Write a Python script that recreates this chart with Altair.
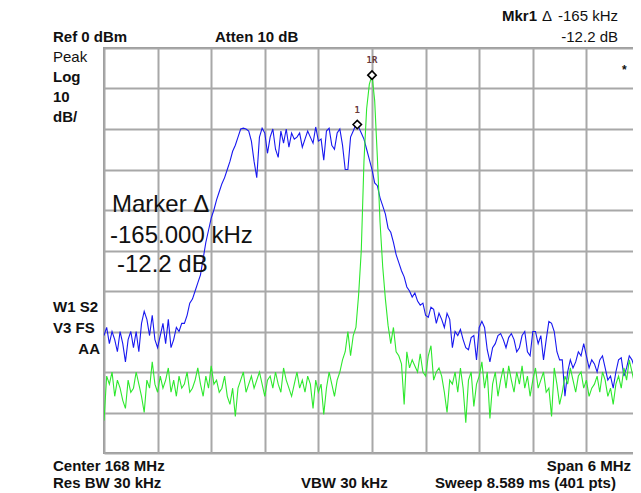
import altair as alt
import pandas as pd

# Spectrum analyser settings
CENTER_MHZ = 168.0
SPAN_MHZ = 6.0
N_POINTS = 201  # trace points (30 kHz apart)

# Blue trace (dBm), left to right
blue_db = [
    -71, -69, -73, -70, -72, -75, -70, -73, -77.5, -72,
    -70, -74, -70, -75, -68, -65, -67, -71, -66, -72,
    -74, -71, -68, -73, -67, -74, -72, -69, -70, -68,
    -68, -66, -63, -62, -60, -58, -56, -52, -48, -45,
    -42, -40, -37.5, -35.5, -33.5, -32, -30, -28, -25.5, -24,
    -22, -20, -19.8, -20, -20.5, -23, -28, -32, -22, -19.8,
    -21, -26, -22, -20, -25, -27, -20.5, -23.5, -20, -24.5,
    -21, -22.5, -22, -21, -24.5, -22.5, -20.5, -22, -23.5, -19.5,
    -23, -22.5, -27.7, -20.5, -19.8, -24, -25, -21, -20, -24,
    -30, -30, -22, -20.5, -18.9, -19.5, -21, -22.5, -25, -27.5,
    -30, -33.3, -34, -37, -39, -41, -44.5, -45.5, -48, -51,
    -53, -55, -56.5, -59, -60, -61.5, -60.5, -62.5, -63.5, -63,
    -66, -66.5, -64, -64.5, -68, -65.5, -67, -69, -65.5, -67,
    -74, -70, -71, -69.5, -72, -74, -74.5, -71.5, -71, -77,
    -69, -67.5, -69, -74.5, -77.5, -74, -73, -71, -70.5, -72,
    -74, -71.5, -70.5, -72, -75, -74, -71, -70, -75, -76,
    -70, -70, -73, -71, -77, -72, -67.5, -68, -70, -75,
    -77, -77, -86, -80, -77, -79, -77.5, -75, -76, -73,
    -76, -79, -77, -78, -80, -77, -76, -79, -82, -81,
    -84, -80, -77, -76.5, -81, -79, -76, -77, -79, -81,
    -89,
]

# Green trace (dBm), left to right
green_db = [
    -92, -81, -83, -80, -86, -82, -84, -87, -89, -82,
    -85, -84, -80, -83, -86, -90, -82, -84, -77.5, -83,
    -85, -81, -84, -82, -79, -85, -82, -86, -81, -84,
    -83, -80, -85, -84, -82, -79, -83, -86, -81, -84,
    -78.5, -83, -82, -85, -84, -81, -86, -88, -84, -91,
    -84, -82, -80, -85, -83, -81, -84, -82, -80, -83,
    -86, -82, -81, -84, -80, -83, -85, -79, -82, -84,
    -86, -83, -80, -84, -82, -85, -81, -83, -89, -82,
    -85, -83, -90.5, -84, -80, -83, -86, -82, -80, -77,
    -75, -70, -76, -71, -69, -61, -50, -28, -15, -9,
    -6.7, -13, -27, -43, -54, -62, -68.5, -73, -69, -75,
    -76, -78, -88, -75, -79, -77, -78.5, -80, -75.5, -80,
    -81, -76, -73.5, -82, -80, -79, -81, -85, -90, -82,
    -83, -80, -85, -79, -84, -92.5, -82, -80, -88.5, -83,
    -81, -77.5, -84, -80, -91.5, -83, -80, -86, -82, -79,
    -84, -78.5, -82, -85, -80, -83, -78.5, -84, -81, -86,
    -82, -79, -84, -82, -80, -85, -84, -91, -79, -83,
    -88, -85, -81, -83, -79, -82, -85, -81, -80, -84,
    -82, -86, -84, -83, -81, -85, -80, -82, -86, -84,
    -88, -83, -81, -84, -79, -82, -77, -80, -83, -81,
    -80,
]

# Markers: reference (1R) on green peak, delta marker (1) on blue trace
marker_freq = [168.0, 167.835]
marker_db = [-6.7, -18.9]
marker_label = ["1R", "1"]

f0 = CENTER_MHZ - SPAN_MHZ / 2
f1 = CENTER_MHZ + SPAN_MHZ / 2
step = SPAN_MHZ / (N_POINTS - 1)
freqs = [f0 + i * step for i in range(N_POINTS)]

traces = pd.DataFrame({
    "freq": freqs * 2,
    "level": blue_db + green_db,
    "trace": ["blue"] * N_POINTS + ["green"] * N_POINTS,
})
markers = pd.DataFrame({"freq": marker_freq, "level": marker_db, "label": marker_label})

W, H = 536, 405
FONT = "Liberation Sans"

x_scale = alt.Scale(domain=[f0, f1], nice=False, zero=False)
y_scale = alt.Scale(domain=[-100, 0], nice=False)
x_grid = [f0 + k * SPAN_MHZ / 10 for k in range(11)]
y_grid = list(range(-100, 1, 10))

axis_common = dict(labels=False, ticks=False, domain=False, title=None,
                   grid=True, gridColor="#a8a8a8", gridWidth=2, gridOpacity=1)

lines = alt.Chart(traces).mark_line(strokeWidth=1.1, clip=True).encode(
    x=alt.X("freq:Q", scale=x_scale, axis=alt.Axis(values=x_grid, **axis_common)),
    y=alt.Y("level:Q", scale=y_scale, axis=alt.Axis(values=y_grid, **axis_common)),
    color=alt.Color("trace:N", legend=None,
                    scale=alt.Scale(domain=["blue", "green"], range=["#1818f0", "#2ee82e"])),
    detail="trace:N",
)

diamonds = alt.Chart(markers).mark_point(
    shape="diamond", filled=True, fill="white", stroke="black", strokeWidth=1.6, size=70, opacity=1
).encode(x=alt.X("freq:Q", scale=x_scale), y=alt.Y("level:Q", scale=y_scale))

mlabels = alt.Chart(markers).mark_text(
    font="DejaVu Sans Mono", fontSize=9, fontWeight="bold", color="#6a3a3a", dy=-15
).encode(x=alt.X("freq:Q", scale=x_scale), y=alt.Y("level:Q", scale=y_scale), text="label:N")

one = alt.Data(values=[{}])


def txt(s, x, y, size=15, weight="bold", align="left", color="#111111"):
    return alt.Chart(one).mark_text(
        text=s, font=FONT, fontSize=size, fontWeight=weight, align=align,
        baseline="alphabetic", color=color
    ).encode(x=alt.value(x), y=alt.value(y))


texts = [
    txt("Ref 0 dBm", -51, -6),
    txt("Atten 10 dB", 111, -6),
    txt("Mkr1", 398, -27),
    txt("Δ", 438, -27, weight="normal"),
    txt("-165 kHz", 514, -27, weight="normal", align="right"),
    txt("-12.2 dB", 514, -6, weight="normal", align="right"),
    txt("Peak", -51, 14, weight="normal"),
    txt("Log", -51, 34),
    txt("10", -51, 54),
    txt("dB/", -51, 74),
    txt("W1 S2", -51, 264),
    txt("V3 FS", -51, 285),
    txt("AA", -4, 306, align="right"),
    txt("Center 168 MHz", -51, 423),
    txt("Span 6 MHz", 527, 423, align="right"),
    txt("Res BW 30 kHz", -51, 440),
    txt("VBW 30 kHz", 197, 440),
    txt("Sweep 8.589 ms (401 pts)", 331, 440),
    txt("Marker Δ", 8, 164, size=24, weight="normal"),
    txt("-165.000 kHz", 6, 195, size=24, weight="normal"),
    txt("-12.2 dB", 13, 224, size=24, weight="normal"),
    txt("*", 518, 26, size=12),
]

chart = alt.layer(lines, diamonds, mlabels, *texts).properties(
    width=W, height=H,
    padding={"left": 96, "top": 40, "right": -7, "bottom": 42},
    autosize=alt.AutoSizeParams(type="none"),
    background="white",
).configure_view(stroke="#999999", strokeWidth=2)

chart.save("out.html", embed_options={"renderer": "svg", "actions": False})
